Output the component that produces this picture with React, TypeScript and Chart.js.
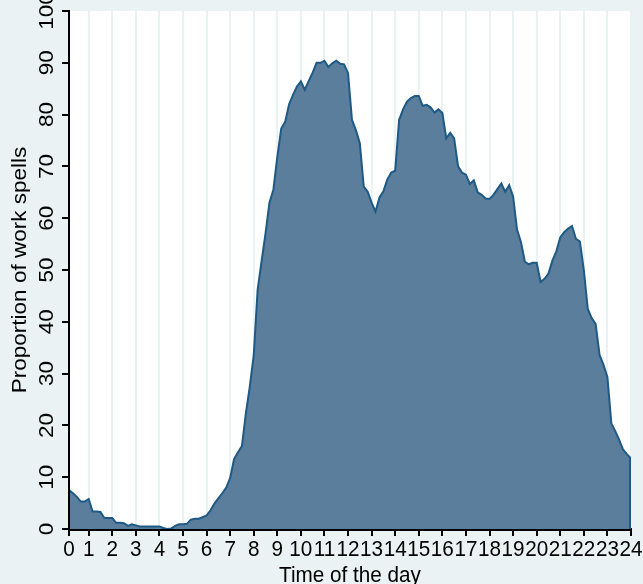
import React, { useEffect, useRef } from "react";
import { Chart, registerables } from "chart.js";

Chart.register(...registerables);

// Time grid: one observation every 10 minutes, first at 00:10, last at 24:00
const START_MINUTES = 10;
const STEP_MINUTES = 10;

// Proportion of work spells (%) at each 10-minute point
const workShare = [
  7.5, 6.9, 6.2, 5.3, 5.3, 5.8, 3.4, 3.4, 3.3, 2.1,
  2.1, 2.1, 1.2, 1.2, 1.1, 0.6, 0.9, 0.7, 0.5, 0.5,
  0.5, 0.5, 0.5, 0.5, 0.2, 0.0, 0.1, 0.6, 0.9, 0.9,
  1.0, 1.8, 2.0, 2.0, 2.3, 2.6, 3.6, 4.9, 5.9, 6.9,
  8.0, 9.8, 13.5, 14.8, 16.0, 22.3, 27.5, 33.5, 46.2, 51.7,
  57.0, 63.0, 65.5, 71.8, 77.3, 78.6, 82.0, 83.8, 85.4, 86.4,
  84.8, 86.5, 88.1, 90.0, 90.0, 90.4, 89.2, 89.9, 90.4, 89.8,
  89.7, 88.0, 79.0, 77.0, 74.5, 66.1, 65.1, 63.0, 61.3, 64.0,
  65.2, 67.5, 68.8, 69.2, 79.0, 81.0, 82.5, 83.2, 83.6, 83.6,
  81.7, 81.9, 81.4, 80.4, 81.0, 80.3, 75.4, 76.5, 75.4, 70.0,
  68.8, 68.4, 66.6, 67.3, 65.0, 64.5, 63.8, 63.7, 64.5, 65.6,
  66.7, 65.1, 66.4, 64.2, 57.8, 55.4, 51.6, 51.1, 51.4, 51.4,
  47.7, 48.3, 49.3, 51.8, 53.6, 56.3, 57.3, 58.0, 58.5, 56.0,
  55.5, 50.0, 42.5, 40.7, 39.6, 33.6, 31.7, 29.3, 20.4, 18.9,
  17.2, 15.3, 14.4, 13.6,
];

const xTickLabels = [
  "0", "1", "2", "3", "4", "5", "6", "7", "8", "9", "10", "11", "12",
  "13", "14", "15", "16", "17", "18", "19", "20", "21", "22", "23", "24",
];
const yTickValues = [0, 10, 20, 30, 40, 50, 60, 70, 80, 90, 100];

const X_TITLE = "Time of the day";
const Y_TITLE = "Proportion of work spells";

const BG = "#EAF2F3";
const FILL = "#5A7E9B";
const LINE = "#1E5A85";
const FONT = "'Liberation Sans', Arial, Helvetica, sans-serif";
const FONT_PX = 22.5;
const SX = 0.92; // horizontal squeeze of the lettering

export default function App() {
  const ref = useRef<HTMLCanvasElement | null>(null);

  useEffect(() => {
    document.body.style.margin = "0";
    document.body.style.background = BG;
    const canvas = ref.current;
    if (!canvas) return;

    const xMin = START_MINUTES / 60;
    const xTickValues = xTickLabels.map((_, i) => (i === 0 ? xMin : i));
    const points = workShare.map((v, i) => ({
      x: (START_MINUTES + i * STEP_MINUTES) / 60,
      y: v,
    }));

    const text = (
      ctx: CanvasRenderingContext2D,
      s: string,
      x: number,
      y: number,
      rotated: boolean
    ) => {
      ctx.save();
      ctx.translate(x, y);
      ctx.scale(SX, 1);
      if (rotated) ctx.rotate(-Math.PI / 2);
      ctx.fillText(s, 0, 0);
      ctx.restore();
    };

    const decor = {
      id: "decor",
      beforeDraw(chart: any) {
        const { ctx, chartArea } = chart;
        ctx.save();
        ctx.fillStyle = BG;
        ctx.fillRect(0, 0, chart.width, chart.height);
        ctx.fillStyle = "#FFFFFF";
        ctx.fillRect(
          chartArea.left,
          chartArea.top,
          chartArea.right - chartArea.left,
          chartArea.bottom - chartArea.top
        );
        ctx.restore();
      },
      afterDatasetsDraw(chart: any) {
        const { ctx, chartArea } = chart;
        const xs = chart.scales.x;
        const ys = chart.scales.y;
        ctx.save();
        const last = points[points.length - 1];
        const lx = Math.min(xs.getPixelForValue(last.x), chartArea.right) - 1;
        ctx.strokeStyle = LINE;
        ctx.lineWidth = 2;
        ctx.beginPath();
        ctx.moveTo(lx, ys.getPixelForValue(last.y));
        ctx.lineTo(lx, ys.getPixelForValue(0));
        ctx.stroke();
        ctx.strokeStyle = "#000";
        ctx.lineWidth = 2;
        ctx.beginPath();
        ctx.moveTo(chartArea.left, chartArea.top);
        ctx.lineTo(chartArea.left, chartArea.bottom + 1);
        ctx.lineTo(chartArea.right, chartArea.bottom + 1);
        ctx.stroke();
        ctx.restore();
      },
      afterDraw(chart: any) {
        const { ctx, chartArea } = chart;
        const xs = chart.scales.x;
        const ys = chart.scales.y;
        ctx.save();
        ctx.fillStyle = "#000";
        ctx.font = `${FONT_PX}px ${FONT}`;
        ctx.textAlign = "center";
        ctx.textBaseline = "alphabetic";
        for (const v of yTickValues) {
          text(ctx, String(v), 53, ys.getPixelForValue(v), true);
        }
        xTickLabels.forEach((lab, i) => {
          text(ctx, lab, xs.getPixelForValue(xTickValues[i]), 556, false);
        });
        text(ctx, Y_TITLE, 26, (chartArea.top + chartArea.bottom) / 2, true);
        text(ctx, X_TITLE, (chartArea.left + chartArea.right) / 2, 582, false);
        ctx.restore();
      },
    };

    const chart = new Chart(canvas, {
      type: "line",
      data: {
        datasets: [
          {
            data: points,
            fill: "origin",
            backgroundColor: FILL,
            borderColor: LINE,
            borderWidth: 2,
            pointRadius: 0,
            tension: 0,
          },
        ],
      },
      options: {
        animation: false,
        responsive: false,
        devicePixelRatio: 1,
        layout: { padding: { top: 11, right: 12, left: 0, bottom: 0 } },
        plugins: {
          legend: { display: false },
          tooltip: { enabled: false },
          title: { display: false },
        },
        scales: {
          x: {
            type: "linear",
            min: xMin,
            max: 24,
            afterBuildTicks(scale: any) {
              scale.ticks = xTickValues.map((v) => ({ value: v }));
            },
            afterFit(scale: any) {
              scale.height = 55;
              scale.paddingLeft = 0;
              scale.paddingRight = 0;
            },
            ticks: { display: false, autoSkip: false },
            grid: {
              color: BG,
              lineWidth: 2,
              tickColor: "#000",
              tickLength: 7,
              tickWidth: 2,
            },
            border: { display: true, color: "#000", width: 2 },
          },
          y: {
            type: "linear",
            min: 0,
            max: 100,
            afterBuildTicks(scale: any) {
              scale.ticks = yTickValues.map((v) => ({ value: v }));
            },
            afterFit(scale: any) {
              scale.width = 69;
              scale.paddingTop = 0;
              scale.paddingBottom = 0;
            },
            ticks: { display: false },
            grid: {
              drawOnChartArea: false,
              color: "#000",
              tickColor: "#000",
              tickLength: 7,
              lineWidth: 2,
            },
            border: { display: true, color: "#000", width: 2 },
          },
        },
      },
      plugins: [decor],
    } as any);

    return () => chart.destroy();
  }, []);

  return (
    <div style={{ width: 643, height: 584 }}>
      <canvas ref={ref} width={643} height={584} style={{ display: "block" }} />
    </div>
  );
}
